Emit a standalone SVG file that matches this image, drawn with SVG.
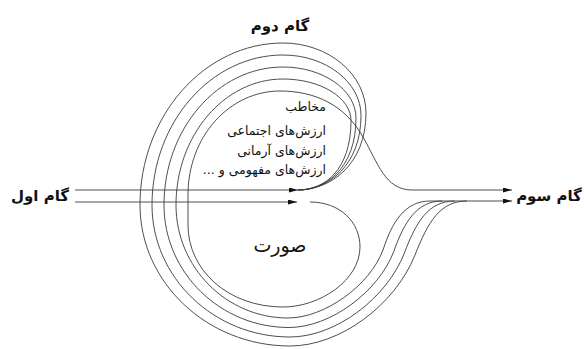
<svg xmlns="http://www.w3.org/2000/svg" width="584" height="349" viewBox="0 0 584 349">
<style>
.c{fill:none;stroke:#3a3a3a;stroke-width:0.9}
.h{font-family:"DejaVu Sans",sans-serif;font-weight:bold;font-size:15px;fill:#111}
.t{font-family:"DejaVu Sans",sans-serif;font-size:12.5px;fill:#111}
.s{font-family:"DejaVu Sans",sans-serif;font-size:19px;fill:#111}
</style>
<defs>
<marker id="ah" markerUnits="userSpaceOnUse" markerWidth="10" markerHeight="6" refX="9" refY="2.5" orient="auto">
<path d="M0,0 L9,2.5 L0,5 z" fill="#111"/>
</marker>
</defs>
<rect width="584" height="349" fill="#fff"/>
<g id="connectors">
<path class="c" d="M75,190 L298,190" marker-end="url(#ah)"/>
<path class="c" d="M75,202 L297,202" marker-end="url(#ah)"/>
<path class="c" d="M298,190 C330,190 366,165 366,113 C366,74.5 328.7,43 283,43 C204.4,43 140,115.9 140,205 C140,282.6 207.5,346 290,346 C340,346 395,305 415,255 C428,222 440,201 467,201"/>
<path class="c" d="M298,190 C328,190 361,165.5 361,115.5 C361,82.2 325.9,55 283,55 C211,55 152,122.5 152,205 C152,277.6 214.1,337 290,337 C335.7,337 386.6,298.3 404.3,253.3 C416,222 428.4,201 454.7,201"/>
<path class="c" d="M298,190 C326,190 356,168 356,118 C356,90 323.2,67 283,67 C217.5,67 164,129.1 164,205 C164,272.4 220.2,327.5 289,327.5 C330.4,327.5 378.3,291.7 393.7,251.7 C404.1,222.1 416.7,201 442.3,201"/>
<path class="c" d="M298,190 C324,190 351,170.5 351,120.5 C351,97.7 320.4,79 283,79 C224.1,79 176,135.7 176,205 C176,267.2 226.4,318 288,318 C325,318 370,285 383,250 C392,222 405,201 430,201"/>
<path class="c" d="M310,202 C340,202 360,222 360,247 C360,280 320,307 283,307 C228,307 188,270 188,225 L188,195 C188,136 230,91 280,91 C315,91 345,105 363,137 C378,163 385,190 412,190 L512,190" marker-end="url(#ah)"/>
<path class="c" d="M430,201 L512,201" marker-end="url(#ah)"/>
</g>
<g id="gam-aval"><text class="h" x="40" y="201" text-anchor="middle">گام اول</text></g>
<g id="gam-dovom"><text class="h" x="280" y="31" text-anchor="middle">گام دوم</text></g>
<g id="gam-sevom"><text class="h" x="549" y="201" text-anchor="middle">گام سوم</text></g>
<g id="mohtava">
<text class="t" x="326" y="111" direction="rtl" text-anchor="start">مخاطب</text>
<text class="t" x="326" y="135" direction="rtl" text-anchor="start">ارزش‌های اجتماعی</text>
<text class="t" x="326" y="155" direction="rtl" text-anchor="start">ارزش‌های آرمانی</text>
<text class="t" x="326" y="174" direction="rtl" text-anchor="start">ارزش‌های مفهومی و ...</text>
</g>
<g id="soorat"><text class="s" x="280" y="252" text-anchor="middle">صورت</text></g>
</svg>
